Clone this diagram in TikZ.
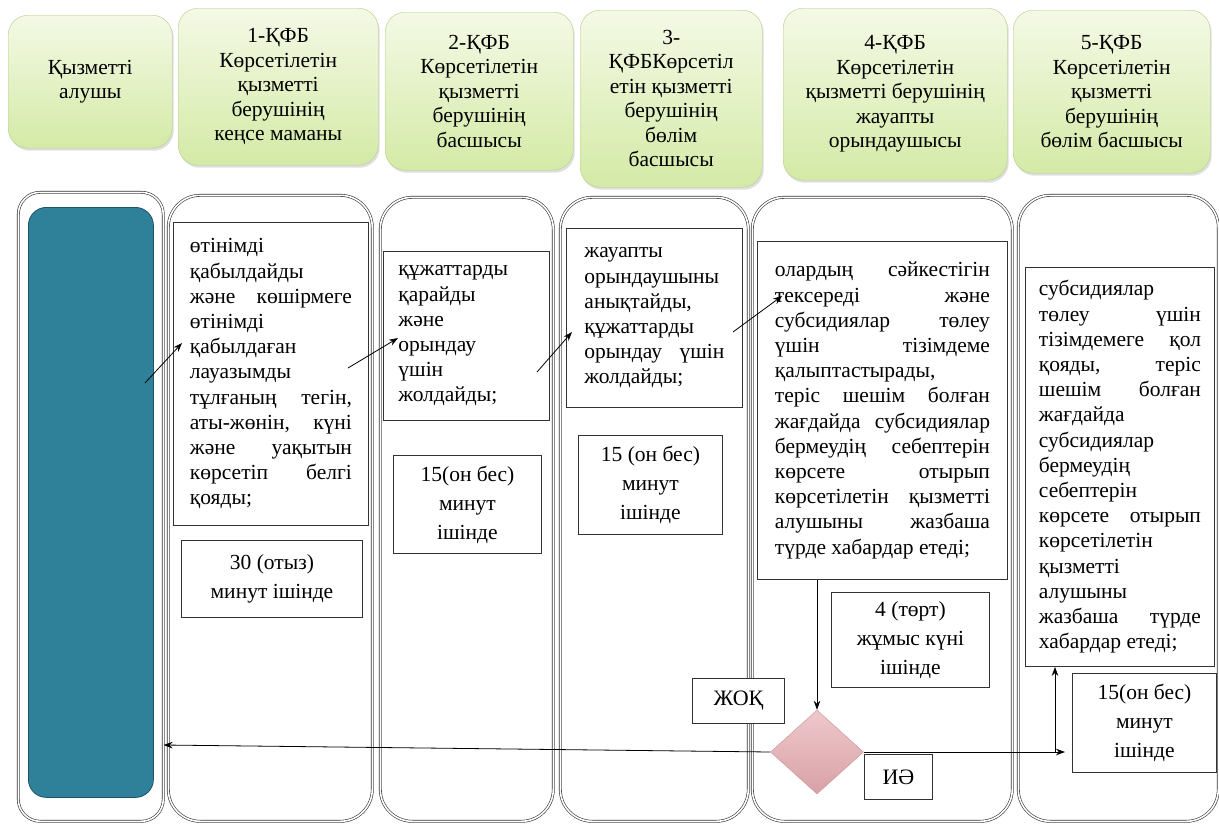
\documentclass[tikz,border=0pt]{standalone}
\usepackage{fontspec}
\setmainfont{Liberation Serif}
\usepackage{tikz}
\usetikzlibrary{shapes.geometric, shadows, arrows.meta}

\definecolor{hdrtop}{HTML}{F4F9E6}
\definecolor{hdrbot}{HTML}{D4EAA6}
\definecolor{hdrline}{HTML}{B3CD86}
\definecolor{tealfill}{HTML}{2F8199}
\definecolor{tealline}{HTML}{1E5264}
\definecolor{dmdtop}{HTML}{EFC8CB}
\definecolor{dmdbot}{HTML}{D8A1A7}
\definecolor{dmdline}{HTML}{C7939A}

\hyphenpenalty=10000
\exhyphenpenalty=10000

\newcommand{\hdrfont}{\fontsize{21.5}{24.5}\selectfont}
\newcommand{\bodyfont}{\fontsize{21.5}{25.2}\selectfont}
\newcommand{\timefont}{\fontsize{21.5}{29}\selectfont}

\begin{document}
\begin{tikzpicture}[x=1pt, y=-1pt,
  hdr/.style={draw=hdrline, rounded corners=20pt, top color=hdrtop, bottom color=hdrbot,
    drop shadow={opacity=0.25, shadow xshift=1.5pt, shadow yshift=-2.5pt},
    align=center, font=\hdrfont, inner sep=0pt, anchor=north west},
  lane/.style={draw=black!80, line width=0.6pt, double=white, double distance=1.6pt,
    rounded corners=32pt, inner sep=0pt, anchor=north west},
  txtbox/.style={draw=black!80, line width=0.9pt, fill=white, align=justify,
    font=\bodyfont, inner sep=0pt, anchor=north west},
  timebox/.style={draw=black!80, line width=0.9pt, fill=white, align=center,
    font=\timefont, inner sep=0pt, anchor=north west},
  arr/.style={line width=0.8pt, -{Stealth[length=9pt, width=6.5pt]}}
]
\useasboundingbox (0,0) rectangle (1219,823);

% headers
\node[hdr, minimum width=164pt, minimum height=133pt] (h0) at (8,15) {Қызметті\\алушы};
\node[hdr, minimum width=200pt, minimum height=157pt] (h1) at (178,8) {1-ҚФБ\\Көрсетілетін\\қызметті\\берушінің\\кеңсе маманы};
\node[hdr, minimum width=188pt, minimum height=158pt] (h2) at (385,12) {2-ҚФБ\\Көрсетілетін\\қызметті\\берушінің\\басшысы};
\node[hdr, minimum width=182pt, minimum height=177pt] (h3) at (580,10) {3-\\ҚФБКөрсетіл\\етін қызметті\\берушінің\\бөлім\\басшысы};
\node[hdr, minimum width=224pt, minimum height=172pt] (h4) at (783,8) {4-ҚФБ\\Көрсетілетін\\қызметті берушінің\\жауапты\\орындаушысы};
\node[hdr, minimum width=197pt, minimum height=163pt] (h5) at (1013,10) {5-ҚФБ\\Көрсетілетін\\қызметті\\берушінің\\бөлім басшысы};

% lanes
\node[lane, rounded corners=22pt, minimum width=145pt, minimum height=629pt] (L0) at (18,192) {};
\node[lane, minimum width=204pt, minimum height=626pt] (L1) at (168,195) {};
\node[lane, minimum width=173pt, minimum height=624pt] (L2) at (380,197) {};
\node[lane, minimum width=188pt, minimum height=624pt] (L3) at (560,197) {};
\node[lane, minimum width=260pt, minimum height=624pt] (L4) at (752,197) {};
\node[lane, minimum width=200pt, minimum height=626pt] (L5) at (1018,195) {};

\node[draw=tealline, line width=0.8pt, fill=tealfill, rounded corners=18pt, inner sep=0pt,
  anchor=north west, minimum width=125pt, minimum height=590pt] (cli) at (28,207) {};

% steps
\node[txtbox, text width=162pt, minimum width=195pt, minimum height=303pt] (b1) at (173,222)
  {өтінімді\linebreak қабылдайды\linebreak және көшірмеге\linebreak өтінімді\linebreak
   қабылдаған\linebreak лауазымды\linebreak тұлғаның тегін,\linebreak аты-жөнін, күні\linebreak
   және уақытын\linebreak көрсетіп белгі\linebreak қояды;};
\node[timebox, minimum width=181pt, minimum height=77pt] (t1) at (181,540) {30 (отыз)\\минут ішінде};

\node[txtbox, text width=136pt, minimum width=166pt, minimum height=169pt] (b2) at (383,251)
  {құжаттарды\\қарайды\\және\\орындау\\үшін\\жолдайды;};
\node[timebox, minimum width=148pt, minimum height=98pt] (t2) at (393,455) {15(он бес)\\минут\\ішінде};

\node[txtbox, text width=140pt, minimum width=176pt, minimum height=179pt] (b3) at (566,228)
  {жауапты\\орындаушыны\\анықтайды,\\құжаттарды\\орындау үшін\linebreak жолдайды;};
\node[timebox, minimum width=144pt, minimum height=99pt] (t3) at (578,435) {15 (он бес)\\минут\\ішінде};

\node[txtbox, text width=215pt, minimum width=250pt, minimum height=338pt] (b4) at (757,241)
  {олардың сәйкестігін\linebreak тексереді және\linebreak субсидиялар төлеу\linebreak
   үшін тізімдеме\linebreak қалыптастырады,\linebreak теріс шешім болған\linebreak
   жағдайда субсидиялар\linebreak бермеудің себептерін\linebreak көрсете отырып\linebreak
   көрсетілетін қызметті\linebreak алушыны жазбаша\linebreak түрде хабардар етеді;};
\node[timebox, minimum width=158pt, minimum height=95pt] (t4) at (831,592) {4 (төрт)\\жұмыс күні\\ішінде};

\node[txtbox, text width=162pt, minimum width=189pt, minimum height=399pt] (b5) at (1025,267)
  {субсидиялар\linebreak төлеу үшін\linebreak тізімдемеге қол\linebreak қояды, теріс\linebreak
   шешім болған\linebreak жағдайда\linebreak субсидиялар\linebreak бермеудің\linebreak
   себептерін\linebreak көрсете отырып\linebreak көрсетілетін\linebreak қызметті\linebreak
   алушыны\linebreak жазбаша түрде\linebreak хабардар етеді;};
\node[timebox, minimum width=144pt, minimum height=99pt] (t5) at (1072,673) {15(он бес)\\минут\\ішінде};

% decision
\node[diamond, draw=dmdline, top color=dmdtop, bottom color=dmdbot, inner sep=0pt,
  minimum width=93pt, minimum height=84pt] (dec) at (817,752) {};
\node[timebox, font=\fontsize{22}{25}\selectfont, minimum width=92pt, minimum height=45pt] (no) at (692,678) {ЖОҚ};
\node[timebox, font=\fontsize{22}{25}\selectfont, minimum width=68pt, minimum height=45pt] (yes) at (864,754) {ИӘ};

% arrows
\coordinate (s1) at (145,383); \coordinate (e1) at (182,343);
\coordinate (s2) at (348,368); \coordinate (e2) at (398,338);
\coordinate (s3) at (537,372); \coordinate (e3) at (572,332);
\coordinate (s4) at (733,332); \coordinate (e4) at (782,296);
\draw[arr] (s1) -- (e1);
\draw[arr] (s2) -- (e2);
\draw[arr] (s3) -- (e3);
\draw[arr] (s4) -- (e4);

\draw[arr] (dec.north |- b4.south) -- (dec.north);
\draw[arr] (dec.west) -- (L0.east |- 0,745);
\draw[arr, shorten >=7pt] (dec.east) -- (t5.west |- dec.east);
\coordinate (jn) at (1055,752);
\draw[arr] (jn) -- (jn |- b5.south);
\end{tikzpicture}
\end{document}
